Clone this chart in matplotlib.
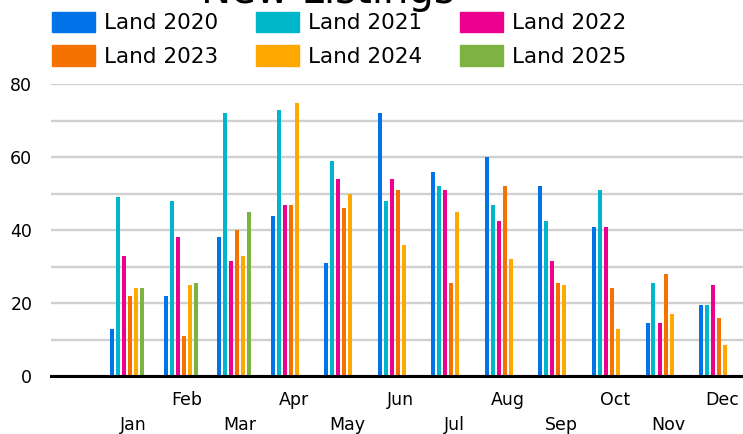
import numpy as np
import matplotlib
matplotlib.use("Agg")
import matplotlib.pyplot as plt
from matplotlib.patches import Patch

months = ["Jan", "Feb", "Mar", "Apr", "May", "Jun", "Jul", "Aug", "Sep", "Oct", "Nov", "Dec"]
series_names = ["Land 2020", "Land 2021", "Land 2022", "Land 2023", "Land 2024", "Land 2025"]
nan = np.nan
land_2020 = [13, 22, 38, 44, 31, 72, 56, 60, 52, 41, 14.5, 19.5]
land_2021 = [49, 48, 72, 73, 59, 48, 52, 47, 42.5, 51, 25.5, 19.5]
land_2022 = [33, 38, 31.5, 47, 54, 54, 51, 42.5, 31.5, 41, 14.5, 25]
land_2023 = [22, 11, 40, 47, 46, 51, 25.5, 52, 25.5, 24, 28, 16]
land_2024 = [24, 25, 33, 75, 50, 36, 45, 32, 25, 13, 17, 8.5]
land_2025 = [24, 25.5, 45, nan, nan, nan, nan, nan, nan, nan, nan, nan]
series_values = [land_2020, land_2021, land_2022, land_2023, land_2024, land_2025]
colors = ["#0073E8", "#00B6CB", "#EE008E", "#F57200", "#FFA800", "#7CB342"]

W, H = 743, 434
fig = plt.figure(figsize=(W / 100, H / 100), dpi=100)
ax_left, ax_right, ax_bottom, ax_top = 51, 743, 376, 84.3
ax = fig.add_axes([ax_left / W, 1 - ax_bottom / H, (ax_right - ax_left) / W, (ax_bottom - ax_top) / H])

px_per_cat = 53.55
x = np.arange(len(months))
pitch = 6 / px_per_cat
bw = 4 / px_per_cat
for i, (name, vals, c) in enumerate(zip(series_names, series_values, colors)):
    ax.bar(x + (i - 3.5) * pitch, vals, width=bw, color=c, zorder=2, label=name)

ax.set_xlim(-(133 - ax_left) / px_per_cat, (ax_right - 133) / px_per_cat)
ax.set_ylim(0, 80)
ax.set_yticks([0, 20, 40, 60, 80])
ax.set_yticks([10, 30, 50, 70], minor=True)
ax.yaxis.grid(True, which='both', color='#d0d0d0', lw=1.7, zorder=0)
ax.set_axisbelow(True)
ax.tick_params(axis='y', which='both', length=0, pad=13.5, labelsize=12.5)
for s in ax.spines.values():
    s.set_visible(False)
ax.axhline(0, color='black', lw=2.2, zorder=3, clip_on=False)

ax.set_xticks(x[1::2])
ax.set_xticklabels(months[1::2])
ax.set_xticks(x[0::2], minor=True)
ax.set_xticklabels(months[0::2], minor=True)
ax.tick_params(axis='x', which='major', length=0, pad=11, labelsize=12.5)
ax.tick_params(axis='x', which='minor', length=0, pad=29, labelsize=12.5)

handles = [Patch(color=c, label=n) for c, n in zip(colors, series_names)]
order = [0, 3, 1, 4, 2, 5]
fig.legend(handles=[handles[k] for k in order], ncol=3, loc='upper left',
           bbox_to_anchor=(43 / W, 1 - 3 / H),
           frameon=False, fontsize=15.5, handlelength=2.0, handleheight=1.1,
           handletextpad=0.42, columnspacing=1.75, labelspacing=0.55, borderaxespad=0)

fig.text(328 / W, 1 - 3 / H, "New Listings", ha='center', va='baseline', fontsize=29)

fig.savefig("out.png", dpi=100)
